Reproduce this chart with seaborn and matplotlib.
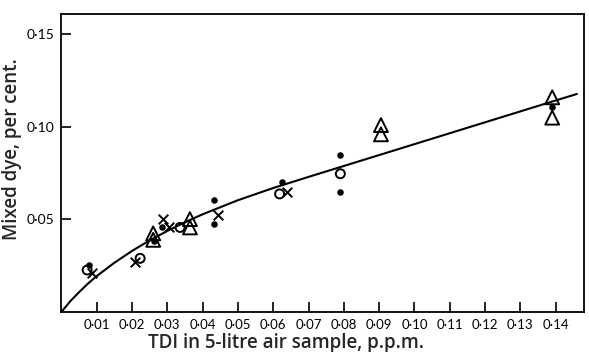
import matplotlib
matplotlib.use("Agg")
import matplotlib.pyplot as plt
import seaborn as sns
import pandas as pd

# TDI concentration (p.p.m.) and mixed-dye reading (per cent) for each sample type
dot_x = [0.0078, 0.0262, 0.0286, 0.0432, 0.0432, 0.0624, 0.0790, 0.0790, 0.1390]
dot_y = [0.0255, 0.0385, 0.0457, 0.0606, 0.0477, 0.0705, 0.0846, 0.0647, 0.1110]

circle_x = [0.0073, 0.0223, 0.0336, 0.0618, 0.0790]
circle_y = [0.0227, 0.0290, 0.0457, 0.0638, 0.0747]

cross_x = [0.0087, 0.0209, 0.0289, 0.0306, 0.0444, 0.0639]
cross_y = [0.0210, 0.0270, 0.0502, 0.0460, 0.0525, 0.0647]

tri_x = [0.0260, 0.0260, 0.0364, 0.0364, 0.0905, 0.0905, 0.1390, 0.1390]
tri_y = [0.0425, 0.0390, 0.0502, 0.0457, 0.1010, 0.0960, 0.1160, 0.1050]

# Calibration curve
curve_x = [0.0, 0.0025, 0.005, 0.0075, 0.010, 0.015, 0.020, 0.025, 0.030, 0.035,
           0.040, 0.050, 0.060, 0.070, 0.080, 0.090, 0.100, 0.110, 0.120, 0.130,
           0.140, 0.146]
curve_y = [0.0, 0.0058, 0.0107, 0.0153, 0.0194, 0.0266, 0.0330, 0.0387, 0.0438, 0.0485,
           0.0528, 0.0604, 0.0670, 0.0730, 0.0789, 0.0848, 0.0907, 0.0966, 0.1025, 0.1084,
           0.1143, 0.1178]

x_ticks = [0.01, 0.02, 0.03, 0.04, 0.05, 0.06, 0.07, 0.08, 0.09, 0.10, 0.11, 0.12, 0.13, 0.14]
x_tick_labels = ["0·01", "0·02", "0·03", "0·04", "0·05", "0·06", "0·07",
                 "0·08", "0·09", "0·10", "0·11", "0·12", "0·13", "0·14"]
y_ticks = [0.05, 0.10, 0.15]
y_tick_labels = ["0·05", "0·10", "0·15"]

sns.set_theme(style="ticks")
plt.rcParams["font.family"] = ["Lato", "DejaVu Sans"]

fig = plt.figure(figsize=(5.89, 3.52), dpi=100)
ax = fig.add_axes([0.1042, 0.1136, 0.8873, 0.8466])

curve = pd.DataFrame({"x": curve_x, "y": curve_y})
sns.lineplot(data=curve, x="x", y="y", ax=ax, color="black", linewidth=1.5, sort=False)

sns.scatterplot(x=dot_x, y=dot_y, ax=ax, marker="o", s=22, color="black",
                edgecolor="black", linewidth=0, zorder=3)
sns.scatterplot(x=circle_x, y=circle_y, ax=ax, marker="o", s=42, facecolor="none",
                edgecolor="black", linewidth=1.4, zorder=3)
sns.scatterplot(x=cross_x, y=cross_y, ax=ax, marker="x", s=48, color="black",
                linewidth=1.4, zorder=3)
sns.scatterplot(x=tri_x, y=tri_y, ax=ax, marker="^", s=100, facecolor="none",
                edgecolor="black", linewidth=1.4, zorder=3)

ax.set_xlim(0, 0.148)
ax.set_ylim(0, 0.161)
ax.set_xticks(x_ticks)
ax.set_xticklabels(x_tick_labels, fontsize=9.5)
ax.set_yticks(y_ticks)
ax.set_yticklabels(y_tick_labels, fontsize=10)
ax.tick_params(direction="in", length=7, width=1.2, colors="black", pad=5)

for side in ["left", "right", "top", "bottom"]:
    ax.spines[side].set_visible(True)
    ax.spines[side].set_linewidth(1.3)
    ax.spines[side].set_color("black")

label_font = ["Open Sans", "DejaVu Sans"]
ax.set_xlabel("TDI in 5-litre air sample, p.p.m.", fontsize=13.5, fontweight="semibold",
              family=label_font)
ax.set_ylabel("Mixed dye, per cent.", fontsize=13.5, fontweight="semibold",
              family=label_font)
ax.xaxis.set_label_coords(0.43, -0.072)
ax.yaxis.set_label_coords(-0.075, 0.545)

fig.savefig("out.png", dpi=100)
